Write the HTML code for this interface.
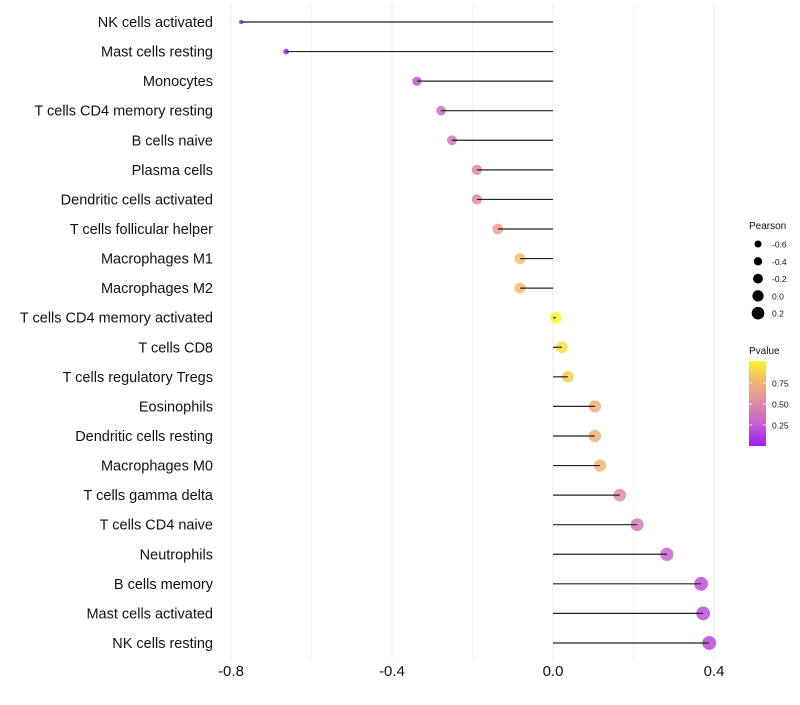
<!DOCTYPE html>
<html><head><meta charset="utf-8"><style>
body{margin:0;background:#fff;font-family:"Liberation Sans",sans-serif;}
</style></head><body>
<svg id="chart" width="800" height="700" xmlns="http://www.w3.org/2000/svg">
<defs><linearGradient id="pg" x1="0" y1="1" x2="0" y2="0">
<stop offset="0" stop-color="#A01AF5"/><stop offset="0.27" stop-color="#C463CF"/><stop offset="0.52" stop-color="#DE8EA4"/><stop offset="0.78" stop-color="#F2B96C"/><stop offset="1" stop-color="#FFF52A"/>
</linearGradient></defs>
</svg>
<script>
const categories=["NK cells activated","Mast cells resting","Monocytes","T cells CD4 memory resting","B cells naive","Plasma cells","Dendritic cells activated","T cells follicular helper","Macrophages M1","Macrophages M2","T cells CD4 memory activated","T cells CD8","T cells regulatory  Tregs ","Eosinophils","Dendritic cells resting","Macrophages M0","T cells gamma delta","T cells CD4 naive","Neutrophils","B cells memory","Mast cells activated","NK cells resting"];
const pearson=[-0.775,-0.663,-0.338,-0.278,-0.251,-0.189,-0.189,-0.137,-0.082,-0.082,0.007,0.022,0.037,0.104,0.104,0.117,0.166,0.209,0.283,0.368,0.373,0.388];
const pvalue=[0.0,0.04,0.22,0.33,0.37,0.5,0.5,0.62,0.8,0.8,1.0,0.92,0.86,0.72,0.72,0.76,0.52,0.4,0.3,0.2,0.2,0.18];
const xTicks=[-0.8,-0.4,0.0,0.4];
const xTickLabels=["-0.8","-0.4","0.0","0.4"];
const minorTicks=[-0.6,-0.2,0.2];
const legendVals=[-0.6,-0.4,-0.2,0.0,0.2];
const legendLabels=["-0.6","-0.4","-0.2","0.0","0.2"];
const pTicks=[0.25,0.5,0.75];

const svg=document.getElementById('chart');
const NS="http://www.w3.org/2000/svg";
const x=v=>553+v*402.5;
const y=i=>22+i*29.57;
const r=v=>Math.sqrt(Math.max(2,4+(v+0.78)*38));
const stops=[[0,[160,26,245]],[0.27,[196,99,207]],[0.52,[222,142,164]],[0.78,[242,185,108]],[1,[255,245,42]]];
function col(p){for(let k=1;k<stops.length;k++){if(p<=stops[k][0]){const a=stops[k-1],b=stops[k];const t=(p-a[0])/(b[0]-a[0]);const c=a[1].map((c0,j)=>Math.round(c0+(b[1][j]-c0)*t));return `rgb(${c})`;}}return 'rgb(255,245,42)';}
function mk(tag,at,txt){const e=document.createElementNS(NS,tag);for(const k in at)e.setAttribute(k,at[k]);if(txt!==undefined)e.textContent=txt;svg.appendChild(e);return e;}

minorTicks.forEach(t=>{const g=mk('line',{x1:x(t),x2:x(t),y1:5,y2:660,stroke:'#f2f2f2','stroke-width':0.8});

});
xTicks.forEach((t,i)=>{const g=mk('line',{x1:x(t),x2:x(t),y1:5,y2:660,stroke:'#ebebeb','stroke-width':1});


const l=mk('text',{x:x(t),y:676,'text-anchor':'middle','font-size':15,fill:'#111'},xTickLabels[i]);

});

categories.forEach((c,i)=>{
const l=mk('text',{x:213,y:y(i)+5,'text-anchor':'end','font-size':14.5,fill:'#111'},c);


const d=mk('circle',{cx:x(pearson[i]),cy:y(i),r:r(pearson[i]),fill:col(pvalue[i]),'fill-opacity':0.85});


const s=mk('line',{x1:x(0),x2:x(pearson[i]),y1:y(i),y2:y(i),stroke:'#222','stroke-width':1.2});


});

const lt=mk('text',{x:749,y:229,'font-size':10,fill:'#111'},'Pearson');


legendVals.forEach((v,i)=>{const cy=244+i*17.3;
const d=mk('circle',{cx:758,cy:cy,r:3.5+i*0.7,fill:'#000'});


const t=mk('text',{x:772,y:cy+3.5,'font-size':8.5,fill:'#111'},legendLabels[i]);

});

const pt=mk('text',{x:749,y:354,'font-size':10,fill:'#111'},'Pvalue');


const bar=mk('rect',{x:749,y:361,width:17,height:85,fill:'url(#pg)'});


pTicks.forEach(p=>{const yy=446-p*84;
const tk=mk('line',{x1:749,x2:752,y1:yy,y2:yy,stroke:'#fff','stroke-width':0.8});


const tk2=mk('line',{x1:763,x2:766,y1:yy,y2:yy,stroke:'#fff','stroke-width':0.8});


const t=mk('text',{x:772,y:yy+3.5,'font-size':8.5,fill:'#111'},p.toFixed(2));

});
</script>
</body></html>
